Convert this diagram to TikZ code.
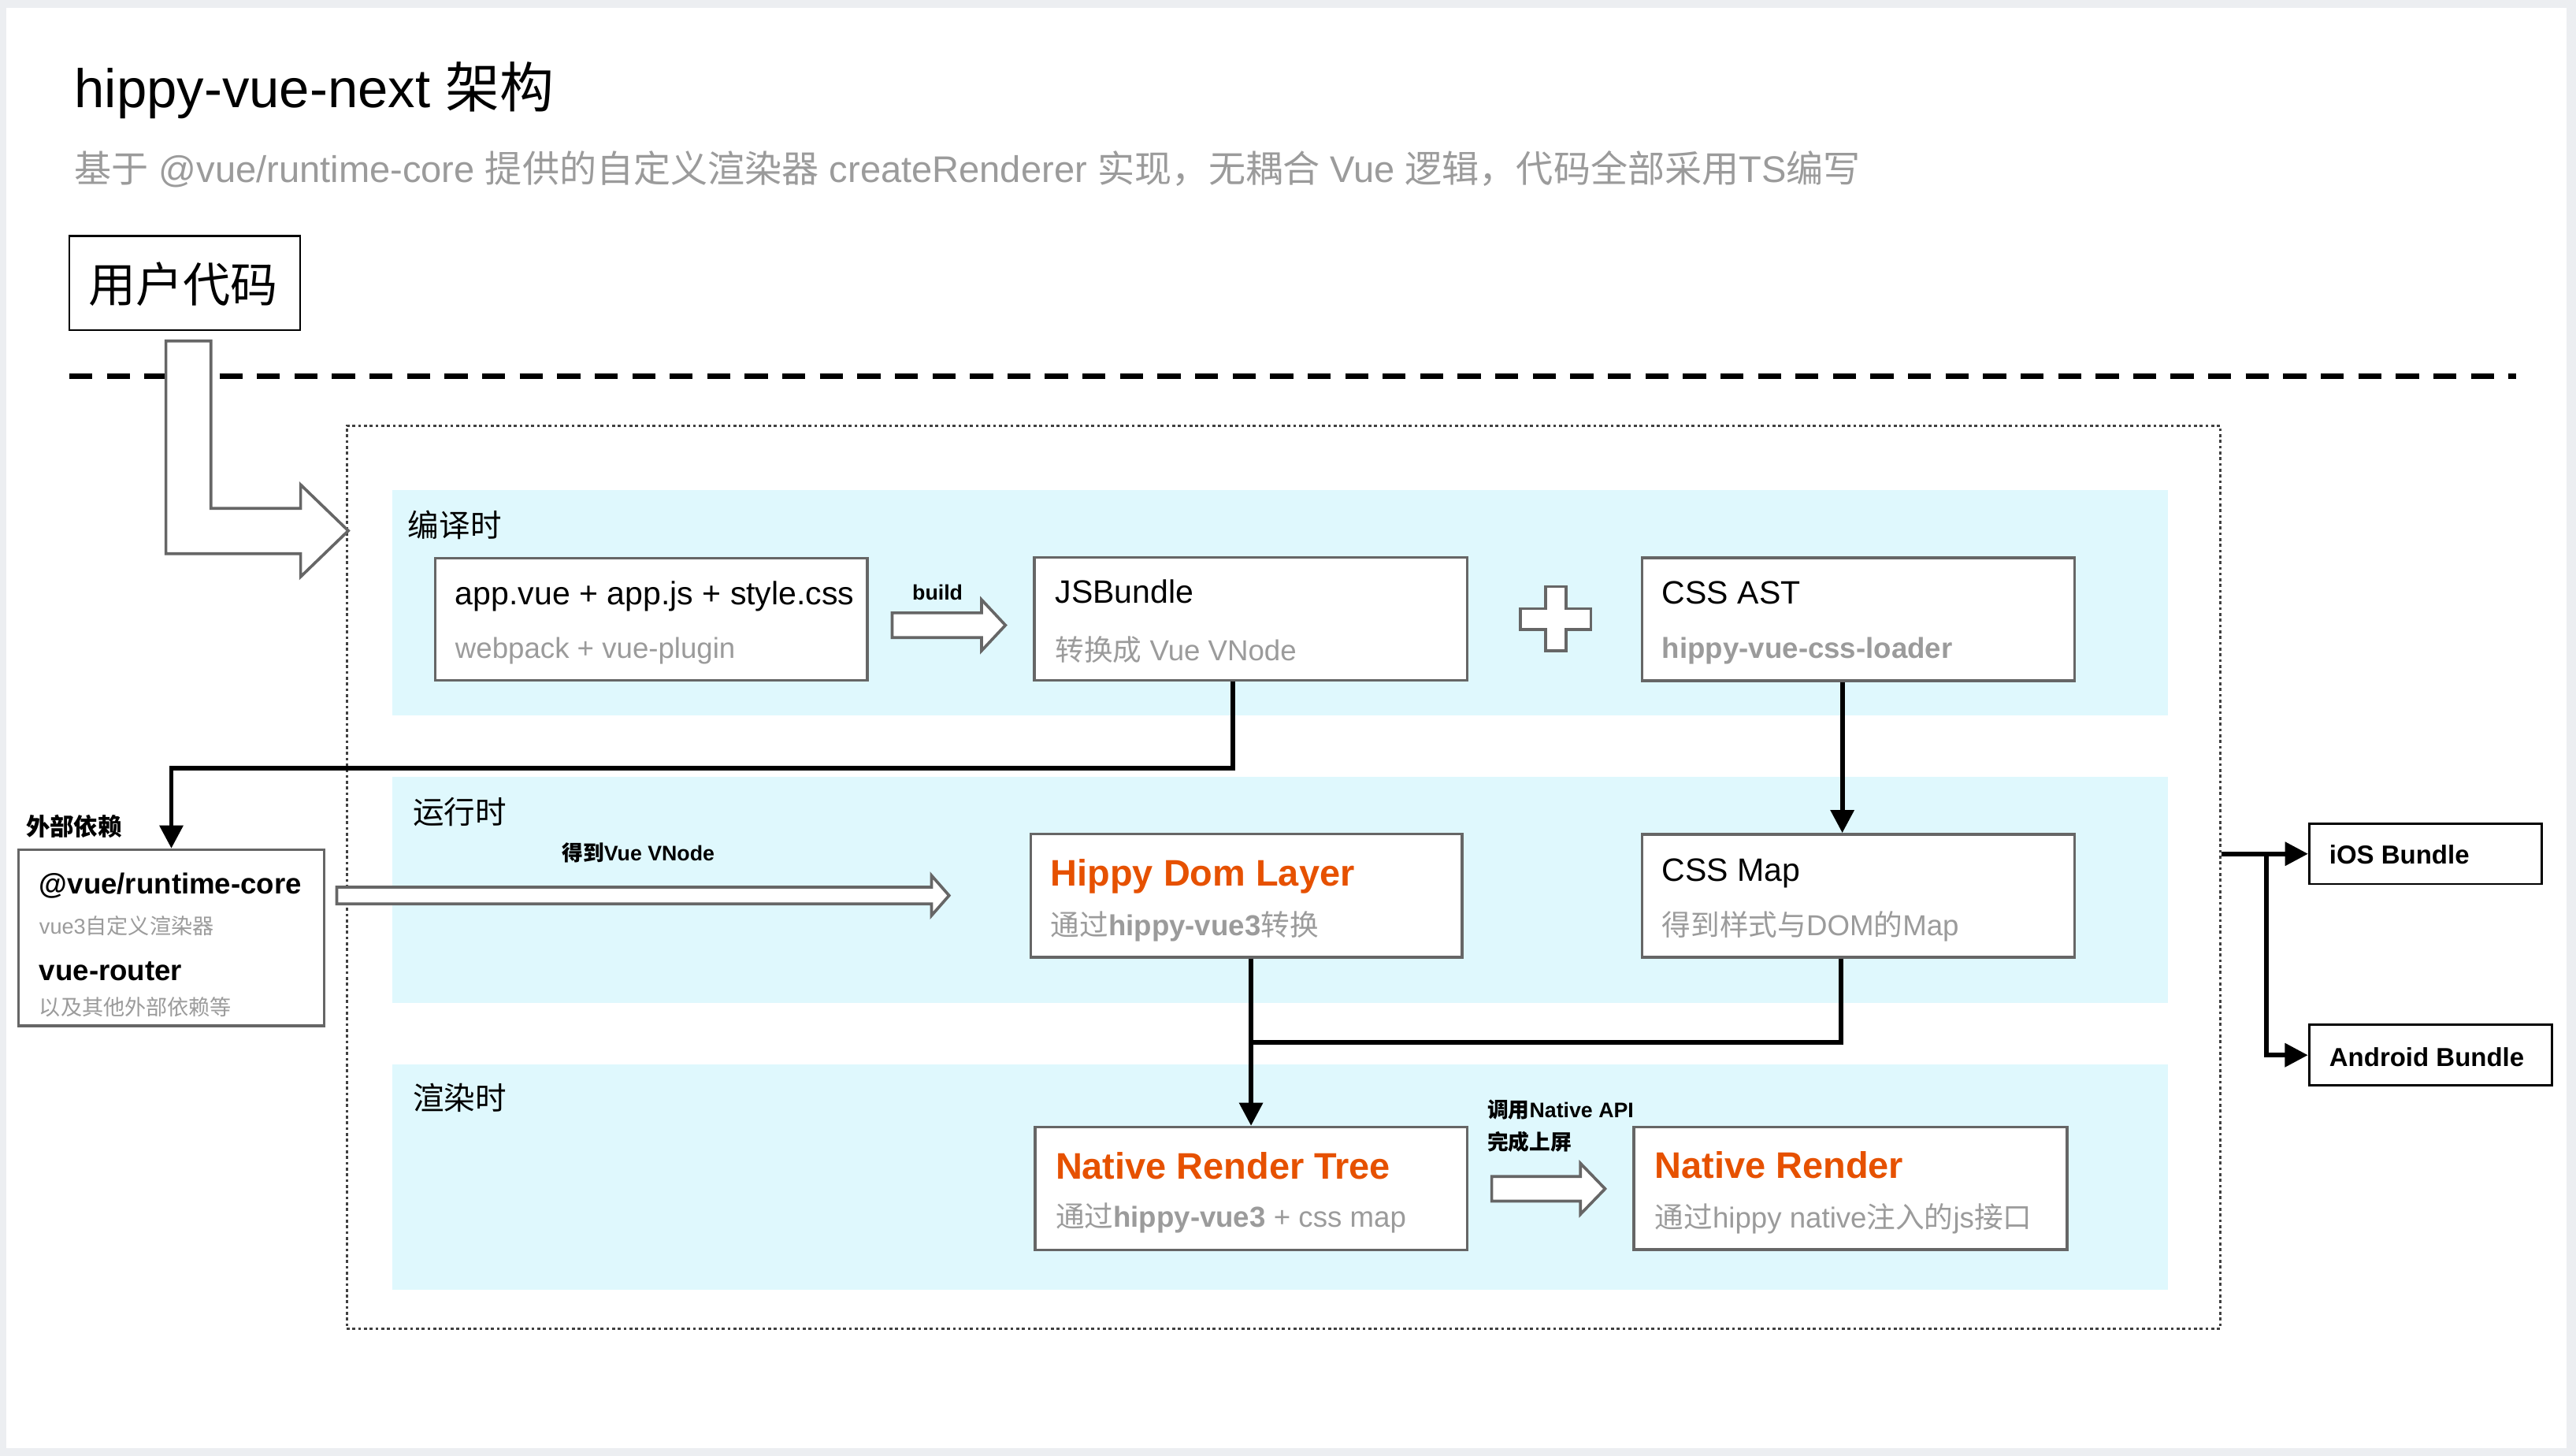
\documentclass[tikz,border=0pt]{standalone}
\usepackage{fontspec}
\setmainfont{Liberation Sans}
\newfontfamily\cjk{Noto Sans CJK SC}
\usetikzlibrary{arrows.meta,fit,calc}

\newcommand\zh[1]{{\cjk #1}}
\newcommand\fsz[1]{\fontsize{#1}{#1}\selectfont}

\definecolor{boxgray}{HTML}{666666}
\definecolor{subgray}{HTML}{9B9B9B}
\definecolor{bandblue}{HTML}{DFF8FD}
\definecolor{hippyorange}{HTML}{E65100}
\definecolor{pagegray}{HTML}{ECEEF1}

\tikzset{
  box/.style={draw=boxgray, line width=1pt, fill=white, inner sep=0pt},
  blackbox/.style={draw=black, line width=0.8pt, fill=white, inner sep=0pt},
  txt/.style={anchor=base west, inner sep=0pt},
  mtxt/.style={txt, font=\fsz{11.2}},
  stxt/.style={txt, font=\fsz{10}, text=subgray},
  otxt/.style={txt, font=\bfseries\fsz{12.8}, text=hippyorange},
  tag/.style={txt, font=\bfseries\fsz{7.3}},
  hollow/.style={draw=boxgray, fill=white, line width=1pt, line join=miter},
  conn/.style={line width=1.6pt, -{Triangle[length=0.28cm,width=0.28cm]}},
  bus/.style={line width=1.6pt},
}

\begin{document}
\begin{tikzpicture}[x=0.02cm,y=-0.02cm]
    % Sfondo
    \useasboundingbox (0,0) rectangle (1568,886.1);
    \fill[pagegray] (0,0) rectangle (1568,886.1);
    \fill[white] (3.7,4.8) rectangle (1562,881.3);

    % Titolo e sottotitolo
    \node[txt, font=\fsz{18.8}] (title) at (45,65.4) {hippy-vue-next \zh{架构}};
    \node[txt, font=\fsz{12.85}, text=subgray] (subtitle) at (45,111)
        {\zh{基于} @vue/runtime-core \zh{提供的自定义渲染器} createRenderer \zh{实现，无耦合} Vue \zh{逻辑，代码全部采用}TS\zh{编写}};

    % Codice utente
    \node[blackbox, fit={(42.2,143.7) (182.7,200.9)}] (user) {};
    \node[txt, font=\fsz{16.4}] (user-t) at (53.5,184) {\zh{用户代码}};
    \draw[line width=1.8pt, dash pattern=on 8pt off 5pt] (42.2,229) -- (1531.5,229);

    % Fasce
    \foreach \ya/\yb in {298.4/435.6, 473/610.5, 647.7/784.8}
        \fill[bandblue] (238.7,\ya) rectangle (1319.5,\yb);
    \node[draw=black!75, dash pattern=on 1pt off 1pt, line width=0.8pt, inner sep=0pt,
          fit={(211,259) (1351.3,808.8)}] (core) {};

    \node[txt, font=\fsz{10.8}] (lab1) at (248,326.6) {\zh{编译时}};
    \node[txt, font=\fsz{10.8}] (lab2) at (251,501.3) {\zh{运行时}};
    \node[txt, font=\fsz{10.8}] (lab3) at (251,675.5) {\zh{渲染时}};

    % Freccia cava dal codice utente
    \draw[hollow] (101,207.5) -- (101,337) -- (183,337) -- (183,351) -- (212,323)
        -- (183,295) -- (183,309.4) -- (128.4,309.4) -- (128.4,207.5) -- cycle;

    % Frecce cave diritte
    \foreach \xa/\xb/\xt/\yc/\sh/\hh in {543/597.5/612/380.5/7.5/15.5, 205/567/577.7/545/5.1/12.2, 908/962/977/723.5/7.5/15.5}
        \draw[hollow] (\xa,\yc-\sh) -- (\xb,\yc-\sh) -- (\xb,\yc-\hh) -- (\xt,\yc)
            -- (\xb,\yc+\hh) -- (\xb,\yc+\sh) -- (\xa,\yc+\sh) -- cycle;

    % Segno piu
    \draw[hollow] (940.7,357) -- (953.3,357) -- (953.3,370.4) -- (968.4,370.4) -- (968.4,383)
        -- (953.3,383) -- (953.3,396) -- (940.7,396) -- (940.7,383) -- (925.6,383)
        -- (925.6,370.4) -- (940.7,370.4) -- cycle;

    % Tempo di compilazione
    \node[box, fit={(265,339.7) (528,414)}] (app) {};
    \node[mtxt] (app-t) at (276.8,368) {app.vue + app.js + style.css};
    \node[stxt] (app-s) at (276.8,400.6) {webpack + vue-plugin};
    \node[tag] (build) at (555,365) {build};

    \node[box, fit={(629.6,339.3) (893,414)}] (jsb) {};
    \node[mtxt] (jsb-t) at (642,367) {JSBundle};
    \node[stxt] (jsb-s) at (642,402) {\zh{转换成} Vue VNode};

    \node[box, fit={(999.5,339.5) (1262.7,414.3)}] (ast) {};
    \node[mtxt] (ast-t) at (1011.4,367.5) {CSS AST};
    \node[stxt, font=\bfseries\fsz{10}] (ast-s) at (1011.4,400.6) {hippy-vue-css-loader};

    % Tempo di esecuzione
    \node[box, fit={(627.4,507.6) (890,582.5)}] (hdl) {};
    \node[otxt] (hdl-t) at (639.2,539.3) {Hippy Dom Layer};
    \node[stxt] (hdl-s) at (639.2,569.2) {\zh{通过}\textbf{hippy-vue3}\zh{转换}};
    \node[tag] (vnode) at (341.7,523.8) {\zh{得到}Vue VNode};

    \node[box, fit={(999.5,507.8) (1262.7,582.6)}] (cmap) {};
    \node[mtxt] (cmap-t) at (1011.4,536.4) {CSS Map};
    \node[stxt] (cmap-s) at (1011.4,569.5) {\zh{得到样式与}DOM\zh{的}Map};

    % Tempo di rendering
    \node[box, fit={(630,686) (893,760.8)}] (nrt) {};
    \node[otxt] (nrt-t) at (642.2,717.4) {Native Render Tree};
    \node[stxt] (nrt-s) at (642.2,747) {\zh{通过}\textbf{hippy-vue3} + css map};

    \node[box, fit={(994.6,686) (1258.3,760.5)}] (nr) {};
    \node[otxt] (nr-t) at (1007,717.3) {Native Render};
    \node[stxt] (nr-s) at (1007,747.5) {\zh{通过}hippy native\zh{注入的}js\zh{接口}};
    \node[tag] (api) at (905,680) {\zh{调用}Native API};
    \node[tag] (screen) at (905,700) {\zh{完成上屏}};

    % Dipendenze esterne
    \node[txt, font=\bfseries\fsz{8.3}] (ext-l) at (15.5,508.5) {\zh{外部依赖}};
    \node[box, fit={(11.3,517.2) (197.3,624.3)}] (ext) {};
    \node[txt, font=\bfseries\fsz{10}] (ext-a) at (23.6,544) {@vue/runtime-core};
    \node[txt, font=\fsz{7.4}, text=subgray] (ext-b) at (23.6,568.5) {vue3\zh{自定义渲染器}};
    \node[txt, font=\bfseries\fsz{10}] (ext-c) at (23.6,596.5) {vue-router};
    \node[txt, font=\fsz{7.4}, text=subgray] (ext-d) at (23.6,617.7) {\zh{以及其他外部依赖等}};

    % Bundle finali
    \node[blackbox, fit={(1405.6,501.3) (1547,538)}] (ios) {};
    \node[txt, font=\bfseries\fsz{9}] (ios-t) at (1417.5,526) {iOS Bundle};
    \node[blackbox, fit={(1405.5,623.8) (1553.5,660.5)}] (android) {};
    \node[txt, font=\bfseries\fsz{9}] (android-t) at (1417.5,649.2) {Android Bundle};

    % Collegamenti
    \draw[conn] ($(jsb.south)+(-11,0)$) -- ++(0,52.8) -| (ext.north);
    \draw[conn] ($(ast.south)+(-9.7,0)$) -- ($(cmap.north)+(-9.7,0)$);
    \draw[conn] (nrt.north |- hdl.south) -- (nrt.north);
    \coordinate (join) at (761.5,634.5);
    \draw[bus] ($(cmap.south)+(-10.5,0)$) |- (join);
    \draw[conn] (core.east |- ios.west) -- (ios.west);
    \coordinate (split) at ($(core.east |- ios.west)+(27.5,0)$);
    \draw[conn] (split) |- (android.west);

\end{tikzpicture}
\end{document}
